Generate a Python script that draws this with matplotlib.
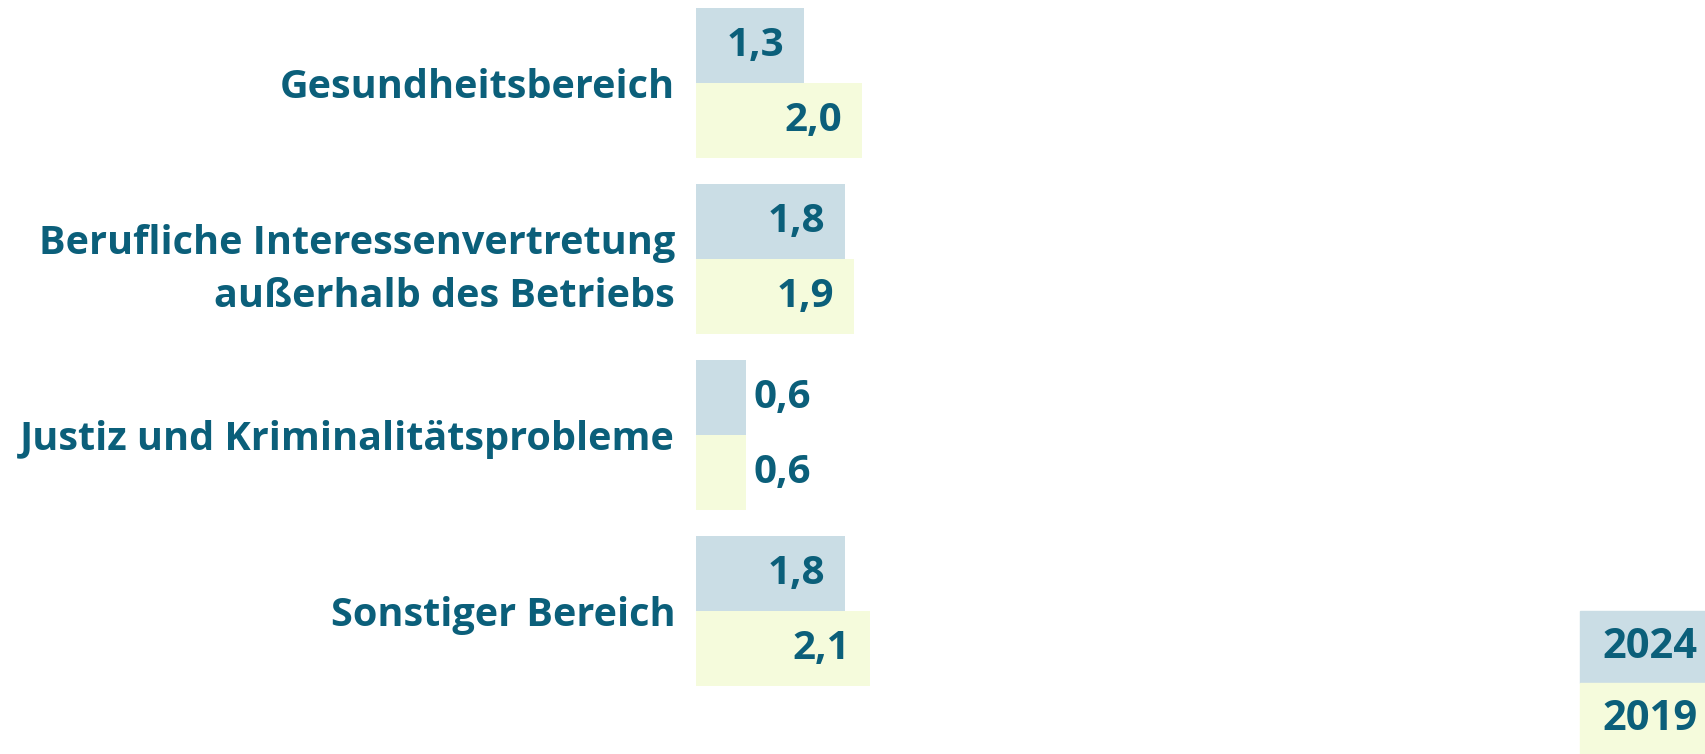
import matplotlib
matplotlib.use("Agg")
import matplotlib.pyplot as plt
from matplotlib.patches import Rectangle

categories = [
    "Gesundheitsbereich",
    "Berufliche Interessenvertretung\naußerhalb des Betriebs",
    "Justiz und Kriminalitätsprobleme",
    "Sonstiger Bereich",
]
values_2024 = [1.3, 1.8, 0.6, 1.8]
values_2019 = [2.0, 1.9, 0.6, 2.1]
series_labels = ["2024", "2019"]

TEXT = "#0b5f7a"
C_2024 = "#cadde5"
C_2019 = "#f5fbdc"
FONT = "Open Sans"

W, H = 1706, 754
fig = plt.figure(figsize=(W / 100, H / 100), dpi=100)

# axes placed in pixel terms: bars start at x=696, group pitch ~176 px
bar_h = 0.426
x0 = 696
px_per_unit = 83.0
top_px, bot_px = 7.6, 7.6 + 3 * 176 + 2 * bar_h * 176
ax = fig.add_axes([x0 / W, 1 - bot_px / H, 1 - x0 / W, (bot_px - top_px) / H])
ax.set_xlim(0, (W - x0) / px_per_unit)
ax.set_ylim(3 + bar_h, -bar_h)

ys = list(range(len(categories)))
ax.barh([y - bar_h / 2 for y in ys], values_2024, height=bar_h, left=0,
        color=C_2024, edgecolor="none")
ax.barh([y + bar_h / 2 for y in ys], values_2019, height=bar_h, left=0,
        color=C_2019, edgecolor="none")

# value labels: inside end if room, otherwise just outside
for vals, off in [(values_2024, -bar_h / 2), (values_2019, bar_h / 2)]:
    for y, v in zip(ys, vals):
        txt = f"{v:.1f}".replace(".", ",")
        if v >= 1.0:
            ax.annotate(txt, (v, y + off), xytext=(-20, 0), textcoords="offset pixels",
                        ha="right", va="center", fontsize=29, fontweight="bold",
                        color=TEXT, family=FONT)
        else:
            ax.annotate(txt, (v, y + off), xytext=(8, 0), textcoords="offset pixels",
                        ha="left", va="center", fontsize=29, fontweight="bold",
                        color=TEXT, family=FONT)

ax.set_yticks(ys)
ax.set_yticklabels(categories, fontsize=28.5, fontweight="bold", color=TEXT,
                   family=FONT, linespacing=1.45)
ax.tick_params(axis="y", length=0, pad=15)
ax.set_xticks([])
for s in ax.spines.values():
    s.set_visible(False)

# legend boxes at lower right
lx, lw, lh = 1580, 126, 72
for i, (lab, col) in enumerate(zip(series_labels, [C_2024, C_2019])):
    yt = 611 + i * lh
    fig.patches.append(Rectangle((lx / W, 1 - (yt + lh) / H), lw / W, lh / H,
                                 transform=fig.transFigure, color=col, zorder=0))
    fig.text((lx + 70) / W, 1 - (yt + lh / 2) / H, lab, ha="center", va="center",
             fontsize=30, fontweight="bold", color=TEXT, family=FONT)

fig.savefig("out.png", dpi=100)
